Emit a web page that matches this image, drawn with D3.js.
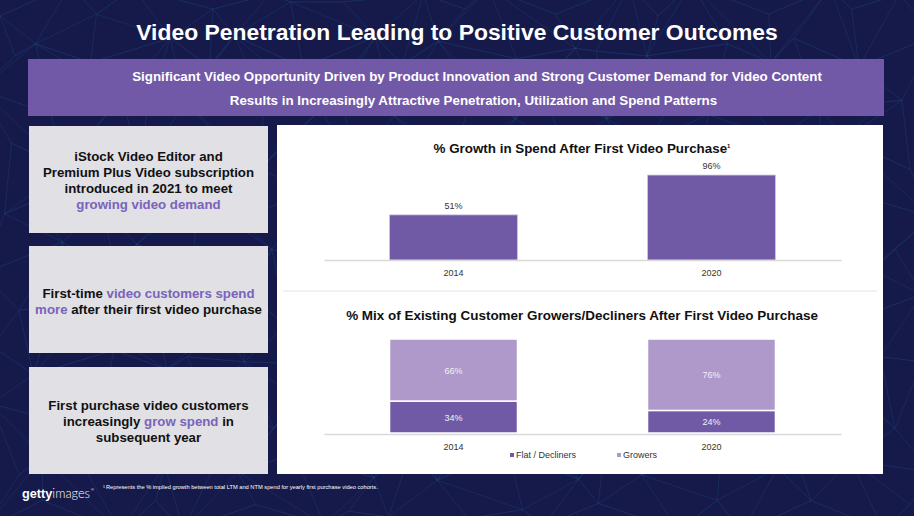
<!DOCTYPE html>
<html>
<head>
<meta charset="utf-8">
<script src="https://cdn.jsdelivr.net/npm/d3@7"></script>
<style>
  html, body { margin: 0; padding: 0; background: #151a4b; }
  svg { display: block; }
  text { font-family: "Liberation Sans", Arial, Helvetica, sans-serif; }
</style>
</head>
<body>
<svg id="chart" width="914" height="516"></svg>
<script>
// ---------------- DATA ----------------
const pageTitle = "Video Penetration Leading to Positive Customer Outcomes";
const bannerLines = [
  "Significant Video Opportunity Driven by Product Innovation and Strong Customer Demand for Video Content",
  "Results in Increasingly Attractive Penetration, Utilization and Spend Patterns"
];
// each box: list of lines, each line a list of [text, highlighted?]
const boxTexts = [
  [[["iStock Video Editor and", false]],
   [["Premium Plus Video subscription", false]],
   [["introduced in 2021 to meet", false]],
   [["growing video demand", true]]],
  [[["First-time ", false], ["video customers spend", true]],
   [["more", true], [" after their first video purchase", false]]],
  [[["First purchase video customers", false]],
   [["increasingly ", false], ["grow spend", true], [" in", false]],
   [["subsequent year", false]]]
];

const growthTitle = "% Growth in Spend After First Video Purchase";
const growthYears = ["2014", "2020"];
const growthValues = [51, 96];

const mixTitle = "% Mix of Existing Customer Growers/Decliners After First Video Purchase";
const mixYears = ["2014", "2020"];
const flatDecliners = [34, 24];
const growers = [66, 76];
const seriesNames = ["Flat / Decliners", "Growers"];

const footnote = "Represents the % implied growth between total LTM and NTM spend for yearly first purchase video cohorts.";

// ---------------- STYLE ----------------
const C = {
  bg: "#151a4b",
  mesh: "#2f8fc6",
  banner: "#7159a8",
  box: "#e0e0e5",
  hl: "#7a63bb",
  dark: "#705aa6",
  light: "#ae99ca",
  text: "#333333"
};

const svg = d3.select("#chart");

function fitWidth(sel, target) {
  const fs = parseFloat(sel.attr("font-size"));
  const w = sel.node().getComputedTextLength();
  sel.attr("font-size", (fs * target / w).toFixed(2));
  return fs * target / w;
}

// ---------------- BACKGROUND ----------------
svg.append("rect").attr("width", 914).attr("height", 516).attr("fill", C.bg);

// decorative mesh (deterministic)
const meshG = svg.append("g").attr("stroke", C.mesh).attr("fill", "none");
const cols = 18, rows = 10;
const pts = [];
for (let j = 0; j <= rows; j++) {
  const row = [];
  for (let i = 0; i <= cols; i++) {
    const x = i * 914 / cols + 20 * Math.sin(i * 1.7 + j * 2.3);
    const y = j * 516 / rows + 16 * Math.cos(i * 2.9 + j * 1.3);
    row.push([x, y]);
  }
  pts.push(row);
}
const line = d3.line();
for (let j = 0; j <= rows; j++) {
  meshG.append("path").attr("d", line(pts[j])).attr("stroke-opacity", 0.25).attr("stroke-width", 0.7);
}
for (let i = 0; i <= cols; i++) {
  meshG.append("path").attr("d", line(pts.map(r => r[i]))).attr("stroke-opacity", 0.2).attr("stroke-width", 0.7);
}
for (let j = 0; j < rows; j++) {
  for (let i = 0; i < cols; i++) {
    const a = (i + j) % 2 === 0 ? [pts[j][i], pts[j + 1][i + 1]] : [pts[j][i + 1], pts[j + 1][i]];
    meshG.append("path").attr("d", line(a)).attr("stroke-opacity", 0.22).attr("stroke-width", 0.6);
  }
}

// ---------------- TITLE ----------------
const t = svg.append("text").attr("x", 457).attr("y", 40).attr("text-anchor", "middle")
  .attr("fill", "#ffffff").attr("font-weight", "bold").attr("font-size", 22).text(pageTitle);
fitWidth(t, 642);

// ---------------- BANNER ----------------
svg.append("rect").attr("x", 28).attr("y", 59).attr("width", 856).attr("height", 57).attr("fill", C.banner);
const bl1 = svg.append("text").attr("x", 477).attr("y", 81).attr("text-anchor", "middle")
  .attr("fill", "#fff").attr("font-weight", "bold").attr("font-size", 13).text(bannerLines[0]);
const bfs = fitWidth(bl1, 690);
svg.append("text").attr("x", 473.5).attr("y", 105).attr("text-anchor", "middle")
  .attr("fill", "#fff").attr("font-weight", "bold").attr("font-size", bfs.toFixed(2)).text(bannerLines[1]);

// ---------------- LEFT BOXES ----------------
const boxY = [126, 246, 367];
const boxH = 107;
const firstLineY = [161, 298, 410];
const probe = svg.append("text").attr("font-weight", "bold").attr("font-size", 13)
  .text("more after their first video purchase");
const boxFs = 13 * 227 / probe.node().getComputedTextLength();
probe.remove();

boxTexts.forEach((lines, b) => {
  svg.append("rect").attr("x", 29).attr("y", boxY[b]).attr("width", 239).attr("height", boxH).attr("fill", C.box);
  lines.forEach((parts, li) => {
    const tx = svg.append("text").attr("x", 148.5).attr("y", firstLineY[b] + li * 16)
      .attr("text-anchor", "middle").attr("font-weight", "bold")
      .attr("font-size", boxFs.toFixed(2)).attr("fill", "#111");
    parts.forEach(([s, h]) => {
      tx.append("tspan").attr("fill", h ? C.hl : "#111").text(s);
    });
  });
});

// ---------------- RIGHT PANEL ----------------
svg.append("rect").attr("x", 277).attr("y", 125).attr("width", 606).attr("height", 349).attr("fill", "#ffffff");
svg.append("line").attr("x1", 283).attr("x2", 877).attr("y1", 291).attr("y2", 291)
  .attr("stroke", "#ececef").attr("stroke-width", 1.5);

// Top chart
const gt = svg.append("text").attr("x", 582).attr("y", 153).attr("text-anchor", "middle")
  .attr("font-weight", "bold").attr("font-size", 13).attr("fill", "#111");
gt.append("tspan").text(growthTitle);
gt.append("tspan").attr("font-size", 6).attr("dy", -5).text("1");
fitWidth(gt, 297);

const x1 = d3.scaleBand().domain(growthYears).range([324, 841]).paddingInner(0.504).paddingOuter(0.254);
const y1 = d3.scaleLinear().domain([0, 100]).range([260, 171.5]);

svg.append("g").selectAll("rect").data(growthYears).join("rect")
  .attr("x", d => x1(d)).attr("width", x1.bandwidth())
  .attr("y", (d, i) => y1(growthValues[i])).attr("height", (d, i) => y1(0) - y1(growthValues[i]))
  .attr("fill", C.dark).attr("stroke", "#cfc6e6").attr("stroke-width", 0.8);

svg.append("g").selectAll("text").data(growthYears).join("text")
  .attr("x", d => x1(d) + x1.bandwidth() / 2).attr("y", (d, i) => y1(growthValues[i]) - 6)
  .attr("text-anchor", "middle").attr("font-size", 9).attr("fill", C.text)
  .text((d, i) => growthValues[i] + "%");

const ax1 = svg.append("g").attr("transform", "translate(0,260)")
  .call(d3.axisBottom(x1).tickSize(0).tickPadding(10));
ax1.select(".domain").attr("stroke", "#d9d9d9").attr("stroke-width", 1.5);
ax1.selectAll("text").attr("font-size", 9).attr("fill", C.text)
  .attr("font-family", "'Liberation Sans', Arial, sans-serif");

// Bottom chart
const mt = svg.append("text").attr("x", 582).attr("y", 320).attr("text-anchor", "middle")
  .attr("font-weight", "bold").attr("font-size", 13).attr("fill", "#111").text(mixTitle);
fitWidth(mt, 472);

const x2 = d3.scaleBand().domain(mixYears).range([324, 841]).paddingInner(0.504).paddingOuter(0.254);
const y2 = d3.scaleLinear().domain([0, 100]).range([433, 339]);
const mixRows = mixYears.map((yr, i) => ({ year: yr, [seriesNames[0]]: flatDecliners[i], [seriesNames[1]]: growers[i] }));
const stack = d3.stack().keys(seriesNames)(mixRows);
const colorScale = d3.scaleOrdinal().domain(seriesNames).range([C.dark, C.light]);

const sg = svg.append("g").selectAll("g").data(stack).join("g").attr("fill", d => colorScale(d.key));
sg.selectAll("rect").data(d => d).join("rect")
  .attr("x", d => x2(d.data.year)).attr("width", x2.bandwidth())
  .attr("y", d => y2(d[1])).attr("height", d => y2(d[0]) - y2(d[1]))
  .attr("stroke", "#ffffff").attr("stroke-width", 1.5);
sg.selectAll("text").data(d => d).join("text")
  .attr("x", d => x2(d.data.year) + x2.bandwidth() / 2)
  .attr("y", d => (y2(d[0]) + y2(d[1])) / 2 + 3.5)
  .attr("text-anchor", "middle").attr("font-size", 9).attr("fill", "#f2f0f7")
  .text(d => (d[1] - d[0]) + "%");

const ax2 = svg.append("g").attr("transform", "translate(0,434)")
  .call(d3.axisBottom(x2).tickSize(0).tickPadding(10));
ax2.select(".domain").attr("stroke", "#d9d9d9").attr("stroke-width", 1.5);
ax2.selectAll("text").attr("font-size", 9).attr("fill", C.text)
  .attr("font-family", "'Liberation Sans', Arial, sans-serif");

// Legend
const legX = [510, 617];
const lg = svg.append("g").selectAll("g").data(seriesNames).join("g")
  .attr("transform", (d, i) => `translate(${legX[i]},457)`);
lg.append("rect").attr("x", 0).attr("y", -4).attr("width", 4).attr("height", 4).attr("fill", d => colorScale(d));
lg.append("text").attr("x", 6).attr("y", 0.5).attr("font-size", 9).attr("fill", C.text).text(d => d);

// ---------------- FOOTER ----------------
const logo = svg.append("text").attr("x", 22).attr("y", 498).attr("fill", "#ffffff").attr("font-size", 15);
logo.append("tspan").attr("font-weight", "bold").text("getty");
logo.append("tspan").attr("font-weight", "300").attr("font-family", "Lato, 'Open Sans', sans-serif").text("images");
fitWidth(logo, 68);
svg.append("text").attr("x", 91).attr("y", 491).attr("fill", "#fff").attr("font-size", 4).text("®");

const fn = svg.append("text").attr("x", 103).attr("y", 489).attr("fill", "#ffffff").attr("font-size", 5.5);
fn.append("tspan").attr("font-size", 3.5).attr("dy", -1.5).text("1 ");
fn.append("tspan").attr("dy", 1.5).text(footnote);
fitWidth(fn, 275);
</script>
</body>
</html>
